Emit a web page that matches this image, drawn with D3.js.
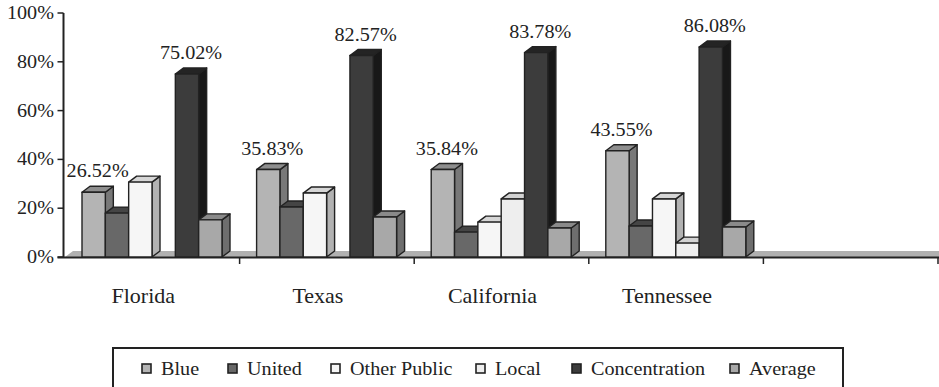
<!DOCTYPE html>
<html>
<head>
<meta charset="utf-8">
<script src="https://cdn.jsdelivr.net/npm/d3@7"></script>
</head>
<body style="margin:0">
<svg id="chart" width="939" height="387"></svg>
<script>
// Categories (a fifth empty slot stays on the axis)
const categories = ["Florida", "Texas", "California", "Tennessee", ""];
const seriesNames = ["Blue", "United", "Other Public", "Local", "Concentration", "Average"];

// Values per series, in percent, one per state
const blue          = [26.52, 35.83, 35.84, 43.55];
const united        = [18.0, 20.5, 10.2, 12.7];
const otherPublic   = [30.7, 26.2, 14.3, 23.8];
const local         = [0, 0, 23.8, 5.7];
const concentration = [75.02, 82.57, 83.78, 86.08];
const average       = [15.2, 16.4, 11.9, 12.3];

const yTicks = [0, 20, 40, 60, 80, 100];
const labelledSeries = ["Blue", "Concentration"];

const seriesValues = [blue, united, otherPublic, local, concentration, average];

// Front, side and top shades for each series
const shades = {
  "Blue":          { front: "#b4b4b4", side: "#787878", top: "#8e8e8e" },
  "United":        { front: "#686868", side: "#3c3c3c", top: "#454545" },
  "Other Public":  { front: "#f6f6f6", side: "#b2b2b2", top: "#d6d6d6" },
  "Local":         { front: "#eeeeee", side: "#ababab", top: "#d2d2d2" },
  "Concentration": { front: "#3c3c3c", side: "#181818", top: "#242424" },
  "Average":       { front: "#a8a8a8", side: "#6e6e6e", top: "#8a8a8a" }
};

// Legend entry left edges
const legendX = [142, 228, 331, 476, 572, 730];

const svg = d3.select("#chart");
const ink = "#222";
const depthX = 8, depthY = 6;
const stretch = 1.12;   // horizontal widening of the small serif text

const x = d3.scaleBand().domain(categories).range([65, 938]).padding(0);
const inner = d3.scaleBand().domain(seriesNames).range([17, 157]).padding(0);
const y = d3.scaleLinear().domain([0, 100]).range([257, 13]);
const y0 = y(0);

function label(sel, size) {
  return sel.style("font-family", "'Liberation Serif'")
    .attr("font-size", size)
    .attr("fill", ink);
}

// Floor strip
svg.append("polygon")
  .attr("points", [[x.range()[0], y0], [x.range()[0] + depthX, y0 - depthY], [939, y0 - depthY], [939, y0]].join(" "))
  .attr("fill", "#b0b0b0")
  .attr("stroke", "none");

// Y axis
const yAxisX = 63.5;
svg.append("line").attr("x1", yAxisX).attr("x2", yAxisX).attr("y1", y(100)).attr("y2", y0)
  .attr("stroke", ink).attr("stroke-width", 2);
yTicks.forEach(t => {
  svg.append("line").attr("x1", yAxisX - 6).attr("x2", yAxisX).attr("y1", y(t)).attr("y2", y(t))
    .attr("stroke", ink).attr("stroke-width", 1.5);
  label(svg.append("text"), 18)
    .attr("transform", `translate(54,${y(t) + 6}) scale(${stretch},1)`)
    .attr("text-anchor", "end")
    .text(t + "%");
});

// X axis line and category ticks
svg.append("line").attr("x1", yAxisX - 6).attr("x2", 939).attr("y1", y0 + 0.5).attr("y2", y0 + 0.5)
  .attr("stroke", ink).attr("stroke-width", 2);
categories.forEach(c => {
  const bx = x(c) + x.bandwidth();
  svg.append("line").attr("x1", bx).attr("x2", bx).attr("y1", y0).attr("y2", y0 + 7)
    .attr("stroke", ink).attr("stroke-width", 1.5);
});

// 3D bars
const bars = svg.append("g");
categories.slice(0, 4).forEach((cat, ci) => {
  seriesNames.forEach((s, si) => {
    const v = seriesValues[si][ci];
    if (!v) return;
    const bx = x(cat) + inner(s);
    const w = inner.bandwidth();
    const top = y(v);
    const sh = shades[s];
    const g = bars.append("g").attr("stroke", ink).attr("stroke-width", 1.4).attr("stroke-linejoin", "round");
    g.append("polygon")
      .attr("points", [[bx + w, top], [bx + w + depthX, top - depthY], [bx + w + depthX, y0 - depthY], [bx + w, y0]].join(" "))
      .attr("fill", sh.side);
    g.append("polygon")
      .attr("points", [[bx, top], [bx + depthX, top - depthY], [bx + w + depthX, top - depthY], [bx + w, top]].join(" "))
      .attr("fill", sh.top);
    g.append("rect")
      .attr("x", bx).attr("y", top).attr("width", w).attr("height", y0 - top)
      .attr("fill", sh.front);
    if (labelledSeries.includes(s)) {
      label(svg.append("text"), 18)
        .attr("transform", `translate(${bx + w / 2 + depthX / 2},${top - depthY - 9}) scale(${stretch},1)`)
        .attr("text-anchor", "middle")
        .text(v.toFixed(2) + "%");
    }
  });
});

// Category labels
categories.forEach(c => {
  if (!c) return;
  label(svg.append("text"), 22)
    .attr("x", x(c) + x.bandwidth() / 2 - 9)
    .attr("y", 303)
    .attr("text-anchor", "middle")
    .text(c);
});

// Legend
svg.append("rect")
  .attr("x", 113).attr("y", 348).attr("width", 730).attr("height", 60)
  .attr("fill", "#fff").attr("stroke", ink).attr("stroke-width", 2);
seriesNames.forEach((s, i) => {
  const lx = legendX[i];
  svg.append("rect")
    .attr("x", lx).attr("y", 364).attr("width", 9).attr("height", 9)
    .attr("fill", shades[s].front).attr("stroke", ink).attr("stroke-width", 1.6);
  label(svg.append("text"), 18)
    .attr("transform", `translate(${lx + 19},375) scale(${stretch},1)`)
    .text(s);
});
</script>
</body>
</html>
